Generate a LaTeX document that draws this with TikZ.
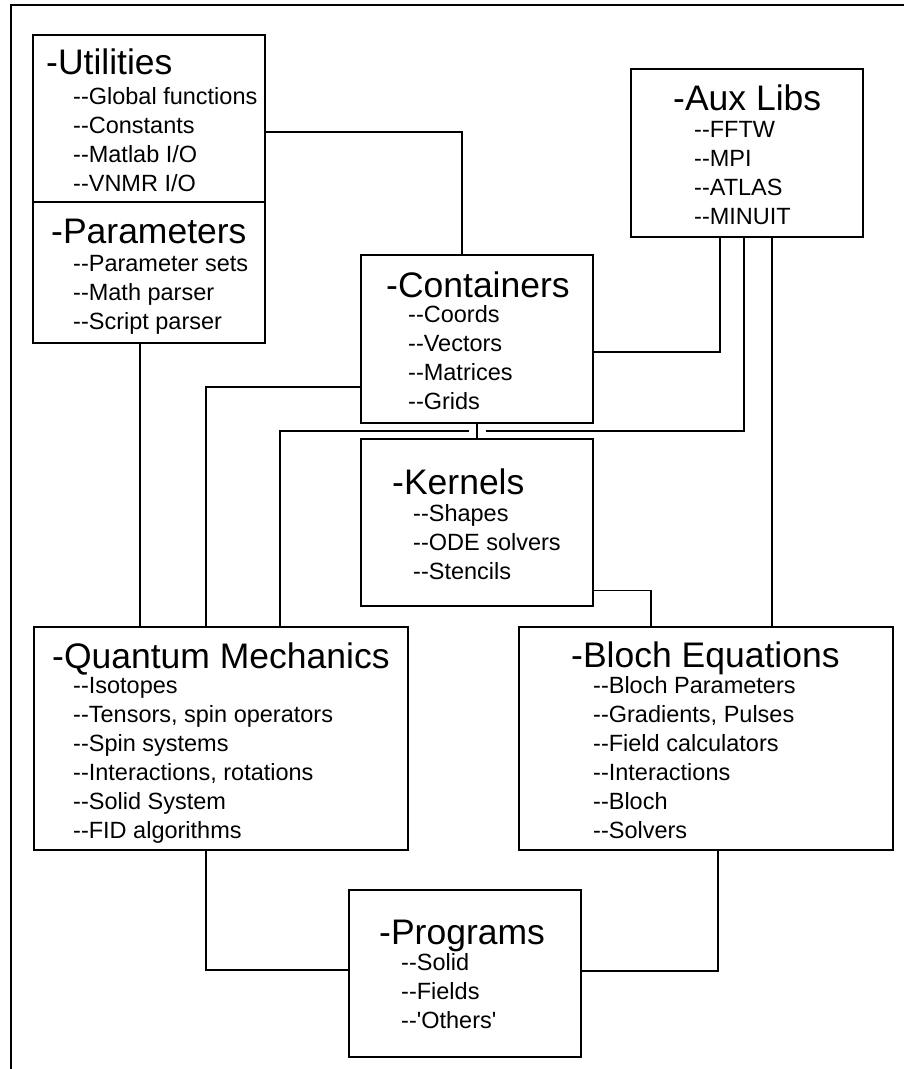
\documentclass[tikz,border=0pt]{standalone}
\usepackage{fontspec}
\setmainfont{Liberation Sans}
\usetikzlibrary{positioning, calc}

\tikzset{
  box/.style={draw, line width=1.8pt, inner sep=0pt, outer sep=0pt, anchor=north west},
  title/.style={inner sep=0pt, anchor=base west, font=\fontsize{35.5}{40}\selectfont},
  item/.style={inner sep=0pt, anchor=base west, font=\fontsize{23.5}{28}\selectfont},
  link/.style={line width=1.8pt},
  frame/.style={line width=2pt}
}

\begin{document}
\begin{tikzpicture}[x=1pt, y=-1pt]

  \useasboundingbox (0,0) rectangle (904,1069);

  % --- Cornice ---
  \draw[frame] (11,1069) -- (11,5) -- (904,5);

  % --- Riquadri ---
  \node[box, minimum width=232pt, minimum height=167pt] (util) at (33,35) {};
  \node[box, minimum width=232pt, minimum height=141pt] (params) at (33,202) {};
  \node[box, minimum width=232pt, minimum height=168pt] (aux) at (631,69) {};
  \node[box, minimum width=232pt, minimum height=168pt] (cont) at (361,255) {};
  \node[box, minimum width=232pt, minimum height=167pt] (kern) at (361,439) {};
  \node[box, minimum width=374pt, minimum height=223pt] (qm) at (34,627) {};
  \node[box, minimum width=374pt, minimum height=223pt] (bloch) at (519,627) {};
  \node[box, minimum width=232pt, minimum height=167pt] (prog) at (349,890) {};

  % --- Testi ---
  \node[title] (util-t) at (46,74) {-Utilities};
  \foreach \t [count=\i] in {Global functions, Constants, Matlab I/O, VNMR I/O}
    \node[item] (util-\i) at (73,75+29*\i) {-{}-\t};

  \node[title] (params-t) at (51,243) {-Parameters};
  \foreach \t [count=\i] in {Parameter sets, Math parser, Script parser}
    \node[item] (params-\i) at (73,242+29*\i) {-{}-\t};

  \node[title] (aux-t) at (673,110) {-Aux Libs};
  \foreach \t [count=\i] in {FFTW, MPI, ATLAS, MINUIT}
    \node[item] (aux-\i) at (694,108+29*\i) {-{}-\t};

  \node[title] (cont-t) at (386,297) {-Containers};
  \foreach \t [count=\i] in {Coords, Vectors, Matrices, Grids}
    \node[item] (cont-\i) at (408,293+29*\i) {-{}-\t};

  \node[title] (kern-t) at (392,494) {-Kernels};
  \foreach \t [count=\i] in {Shapes, ODE solvers, Stencils}
    \node[item] (kern-\i) at (413,492+29*\i) {-{}-\t};

  \node[title] (qm-t) at (52,668) {-Quantum Mechanics};
  \foreach \t [count=\i] in {Isotopes, {Tensors, spin operators}, Spin systems,
      {Interactions, rotations}, Solid System, FID algorithms}
    \node[item] (qm-\i) at (73,664+29*\i) {-{}-\t};

  \node[title] (bloch-t) at (571,667) {-Bloch Equations};
  \foreach \t [count=\i] in {Bloch Parameters, {Gradients, Pulses}, Field calculators,
      Interactions, Bloch, Solvers}
    \node[item] (bloch-\i) at (593,664+29*\i) {-{}-\t};

  \node[title] (prog-t) at (379,944) {-Programs};
  \foreach \t [count=\i] in {Solid, Fields, \textquotesingle Others\textquotesingle}
    \node[item] (prog-\i) at (401,941+29*\i) {-{}-\t};

  % --- Collegamenti ---
  \draw[link] ([yshift=-97pt]util.north east) -| ([xshift=-15pt]cont.north);
  \draw[link] ([xshift=-9pt]params.south) -- ([xshift=-9pt]params.south |- qm.north);
  \draw[link] ([yshift=-48pt]cont.west) -| ([xshift=-15pt]qm.north);
  \draw[link] ([xshift=-27pt]aux.south) |- ([yshift=-13pt]cont.east);
  \draw[link] ([xshift=-3pt]aux.south) |- ($(cont.south)!.5!(kern.north)$)
    -| ([xshift=59pt]qm.north);
  \draw[link, preaction={draw, white, line width=17pt, shorten <=3pt, shorten >=3pt}]
    (cont.south) -- (kern.north);
  \draw[link] ([xshift=25pt]aux.south) -- ([xshift=25pt]aux.south |- bloch.north);
  \draw[link] ([yshift=-68pt]kern.east) -| ([xshift=-55pt]bloch.north);
  \draw[link] ([xshift=-15pt]qm.south) |- ([yshift=3.5pt]prog.west);
  \draw[link] ([xshift=12pt]bloch.south) |- ([yshift=2.5pt]prog.east);

\end{tikzpicture}
\end{document}
